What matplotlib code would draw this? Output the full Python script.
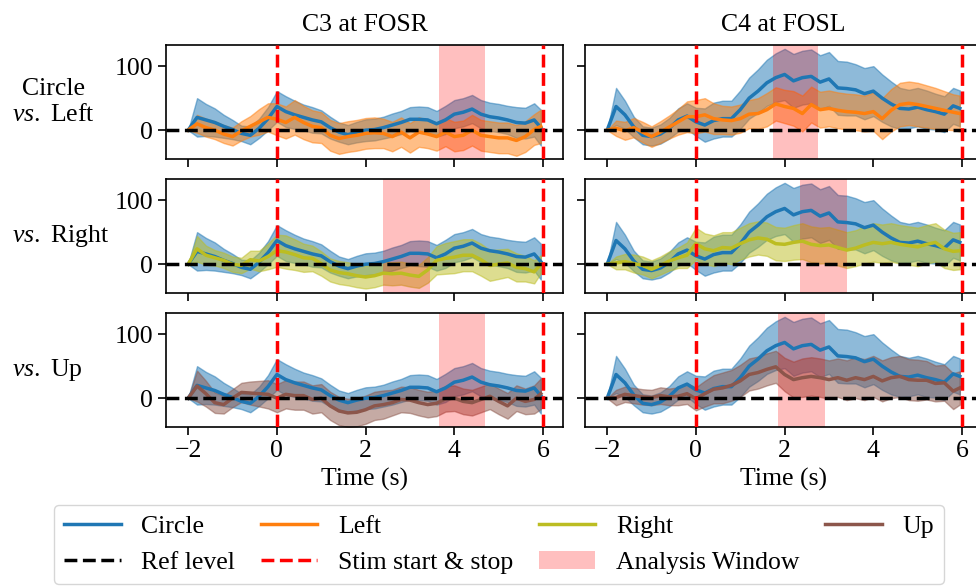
import numpy as np
import matplotlib
matplotlib.use("Agg")
import matplotlib.pyplot as plt
from matplotlib.lines import Line2D
from matplotlib.patches import Patch

plt.rcParams['font.family'] = ['Liberation Serif', 'DejaVu Serif']
plt.rcParams['font.size'] = 18.5
plt.rcParams['axes.titlesize'] = 18.5
plt.rcParams['mathtext.fontset'] = 'custom'
plt.rcParams['mathtext.rm'] = 'Liberation Serif'
plt.rcParams['mathtext.it'] = 'Liberation Serif:italic'

# time axis (s)
t = np.append(np.arange(-2.0, 5.85, 0.2), 5.95)

# C3 at FOSR: mean and half-width of the band
c3_circle = [0, 20, 16, 12, 6, 1, -5, -8, 3, 18, 37, 29, 24, 20, 16, 13, 4, -3, -7, -3,
             0, 1, 4, 8, 12, 17, 17, 16, 10, 16, 25, 28, 33, 25, 21, 19, 16, 12, 11, 16, 4]
c3_circle_sd = [0, 30, 25, 22, 18, 15, 12, 14, 15, 18, 24, 24, 22, 20, 20, 18, 17, 15, 15, 16,
                17, 17, 17, 18, 18, 19, 20, 20, 20, 22, 22, 22, 22, 22, 22, 22, 22, 24, 24, 26, 28]
c3_left = [0, 10, 4, 0, -6, -10, -1, 6, 13, 20, 17, 12, 20, 12, 6, 4, -8, -13, -10, -8,
           -5, -4, -5, -10, -3, -12, -3, -6, -10, -3, -10, -8, 0, -8, -10, -12, -12, -16, -10, 1, 6]
c3_left_sd = [0, 14, 14, 14, 14, 14, 15, 16, 20, 22, 25, 25, 27, 26, 25, 24, 24, 24, 24, 24,
              24, 24, 23, 23, 23, 23, 23, 22, 22, 22, 23, 23, 24, 24, 24, 24, 24, 24, 24, 24, 26]
c3_right = [0, 24, 14, 10, 6, 0, -2, 7, 5, 12, 21, 19, 15, 10, 9, 1, -9, -13, -15, -18,
            -20, -18, -14, -15, -14, -17, -19, -9, 6, 9, 11, 14, 14, 7, -2, 0, 2, -5, -7, -12, 0]
c3_right_sd = [0, 20, 15, 12, 12, 12, 12, 14, 16, 20, 25, 26, 24, 22, 20, 19, 18, 18, 18, 18,
               18, 18, 18, 18, 18, 18, 18, 20, 22, 24, 25, 25, 25, 25, 24, 23, 22, 22, 20, 18, 14]
c3_up = [0, 19, 7, -7, -10, 0, 9, 8, 7, 6, 0, 6, 4, 4, -2, 0, -12, -20, -23, -22,
         -18, -12, -10, -7, -2, -3, -7, -10, -8, -1, 0, -5, -7, -2, 3, -5, -12, 0, -5, -2, 7]
c3_up_sd = [0, 24, 20, 16, 14, 14, 15, 18, 20, 22, 22, 22, 22, 22, 22, 22, 22, 22, 22, 22,
            22, 22, 22, 20, 20, 20, 20, 20, 20, 20, 20, 20, 20, 20, 20, 20, 20, 20, 20, 22, 24]

# C4 at FOSL
c4_circle = [0, 37, 24, 5, -8, -10, -6, 3, 16, 22, 13, 8, 15, 18, 18, 32, 50, 61, 74, 82,
             87, 77, 82, 84, 75, 80, 66, 65, 63, 57, 61, 50, 41, 34, 33, 36, 32, 29, 25, 38, 34]
c4_circle_sd = [0, 29, 22, 16, 14, 14, 15, 16, 18, 20, 22, 26, 28, 28, 28, 30, 32, 34, 36, 38,
                40, 42, 42, 42, 42, 42, 42, 42, 40, 40, 39, 37, 35, 32, 30, 30, 30, 28, 28, 28, 28]
c4_left = [0, 3, -1, 4, -3, -10, -3, 5, 13, 21, 21, 24, 18, 16, 15, 18, 25, 26, 32, 41,
           37, 34, 26, 40, 32, 34, 31, 29, 28, 26, 29, 18, 31, 40, 42, 40, 37, 34, 31, 28, 26]
c4_left_sd = [0, 12, 14, 15, 16, 16, 17, 18, 20, 24, 26, 26, 24, 22, 22, 22, 22, 24, 26, 26,
              26, 27, 28, 28, 28, 28, 28, 28, 28, 28, 30, 32, 33, 34, 34, 34, 33, 32, 30, 28, 28]
c4_right = [0, 2, 4, 1, -2, -8, -2, 5, 10, 14, 32, 24, 21, 26, 25, 32, 38, 41, 39, 32,
            31, 34, 36, 31, 29, 30, 26, 22, 25, 30, 34, 32, 34, 31, 29, 27, 31, 34, 24, 20, 21]
c4_right_sd = [0, 10, 12, 14, 14, 14, 14, 15, 16, 20, 25, 24, 24, 24, 25, 25, 26, 26, 26, 26,
               26, 27, 28, 28, 28, 28, 28, 28, 28, 29, 30, 30, 30, 30, 30, 30, 30, 30, 30, 29, 29]
c4_up = [0, 1, 6, 4, 2, 1, 4, 2, 3, 7, -1, 7, 14, 16, 20, 27, 37, 40, 45, 49,
         37, 29, 32, 34, 32, 29, 32, 28, 32, 29, 34, 27, 32, 34, 29, 28, 28, 23, 24, 11, 16]
c4_up_sd = [0, 12, 12, 12, 12, 12, 13, 13, 14, 16, 18, 20, 22, 24, 24, 25, 25, 25, 25, 25,
            26, 28, 30, 30, 30, 30, 30, 31, 32, 32, 32, 32, 32, 32, 32, 32, 30, 28, 28, 28, 26]

# analysis windows (s) per row
c3_windows = [(3.65, 4.7), (2.4, 3.45), (3.65, 4.7)]
c4_windows = [(1.73, 2.76), (2.35, 3.4), (1.85, 2.9)]

titles = ['C3 at FOSR', 'C4 at FOSL']
row_labels = ['Circle\n$vs.$ Left', '$vs.$ Right', '$vs.$ Up']
names = ['Circle', 'Left', 'Right', 'Up']
colors = ['tab:blue', 'tab:orange', 'tab:olive', 'tab:brown']

cols = [
    dict(circle=(c3_circle, c3_circle_sd),
         others=[(c3_left, c3_left_sd), (c3_right, c3_right_sd), (c3_up, c3_up_sd)],
         windows=c3_windows),
    dict(circle=(c4_circle, c4_circle_sd),
         others=[(c4_left, c4_left_sd), (c4_right, c4_right_sd), (c4_up, c4_up_sd)],
         windows=c4_windows),
]

W, H = 976, 586
fig = plt.figure(figsize=(W / 100, H / 100), dpi=100)

col_x = [166, 585]
row_bottom = [159, 293, 427]
ax_w, ax_h = 397, 114


def band(ax, mean, sd, color):
    mean = np.array(mean, dtype=float)
    sd = np.array(sd, dtype=float)
    ax.fill_between(t, mean - sd, mean + sd, color=color, alpha=0.5, lw=1, zorder=1)
    ax.plot(t, mean, color=color, lw=2.5, zorder=3)


for c, spec in enumerate(cols):
    for r in range(3):
        ax = fig.add_axes([col_x[c] / W, (H - row_bottom[r]) / H, ax_w / W, ax_h / H])
        band(ax, spec['circle'][0], spec['circle'][1], colors[0])
        m, s = spec['others'][r]
        band(ax, m, s, colors[r + 1])
        lo, hi = spec['windows'][r]
        ax.axvspan(lo, hi, color='red', alpha=0.25, lw=0, zorder=2)
        ax.axhline(0, color='black', ls='--', lw=2.5, zorder=4)
        for x in (0, 6):
            ax.axvline(x, color='red', ls='--', lw=2.5, zorder=5)

        ax.set_xlim(-2.5, 6.45)
        ax.set_ylim(-45, 133)
        ax.set_xticks([-2, 0, 2, 4, 6])
        ax.set_yticks([0, 100])
        ax.tick_params(length=6, width=1.2)
        for sp in ax.spines.values():
            sp.set_linewidth(1.2)
        if r < 2:
            ax.set_xticklabels([])
        else:
            ax.set_xlabel('Time (s)')
        if c == 1:
            ax.set_yticklabels([])
        else:
            yc = (H - row_bottom[r] + ax_h / 2) / H
            fig.text(12 / W, yc, row_labels[r], ha='left', va='center', multialignment='center')
        if r == 0:
            ax.set_title(titles[c], pad=10)

handles = [
    Line2D([], [], color=colors[0], lw=2.5), Line2D([], [], color='black', ls='--', lw=2.5),
    Line2D([], [], color=colors[1], lw=2.5), Line2D([], [], color='red', ls='--', lw=2.5),
    Line2D([], [], color=colors[2], lw=2.5), Patch(color='red', alpha=0.25, lw=0),
    Line2D([], [], color=colors[3], lw=2.5),
]
labels = ['Circle', 'Ref level', 'Left', 'Stim start & stop', 'Right', 'Analysis Window', 'Up']
fig.legend(handles, labels, loc='upper center', bbox_to_anchor=(499 / W, (H - 492) / H),
           ncol=4, columnspacing=1.0, handlelength=2.2)

fig.savefig('out.png', dpi=100)
